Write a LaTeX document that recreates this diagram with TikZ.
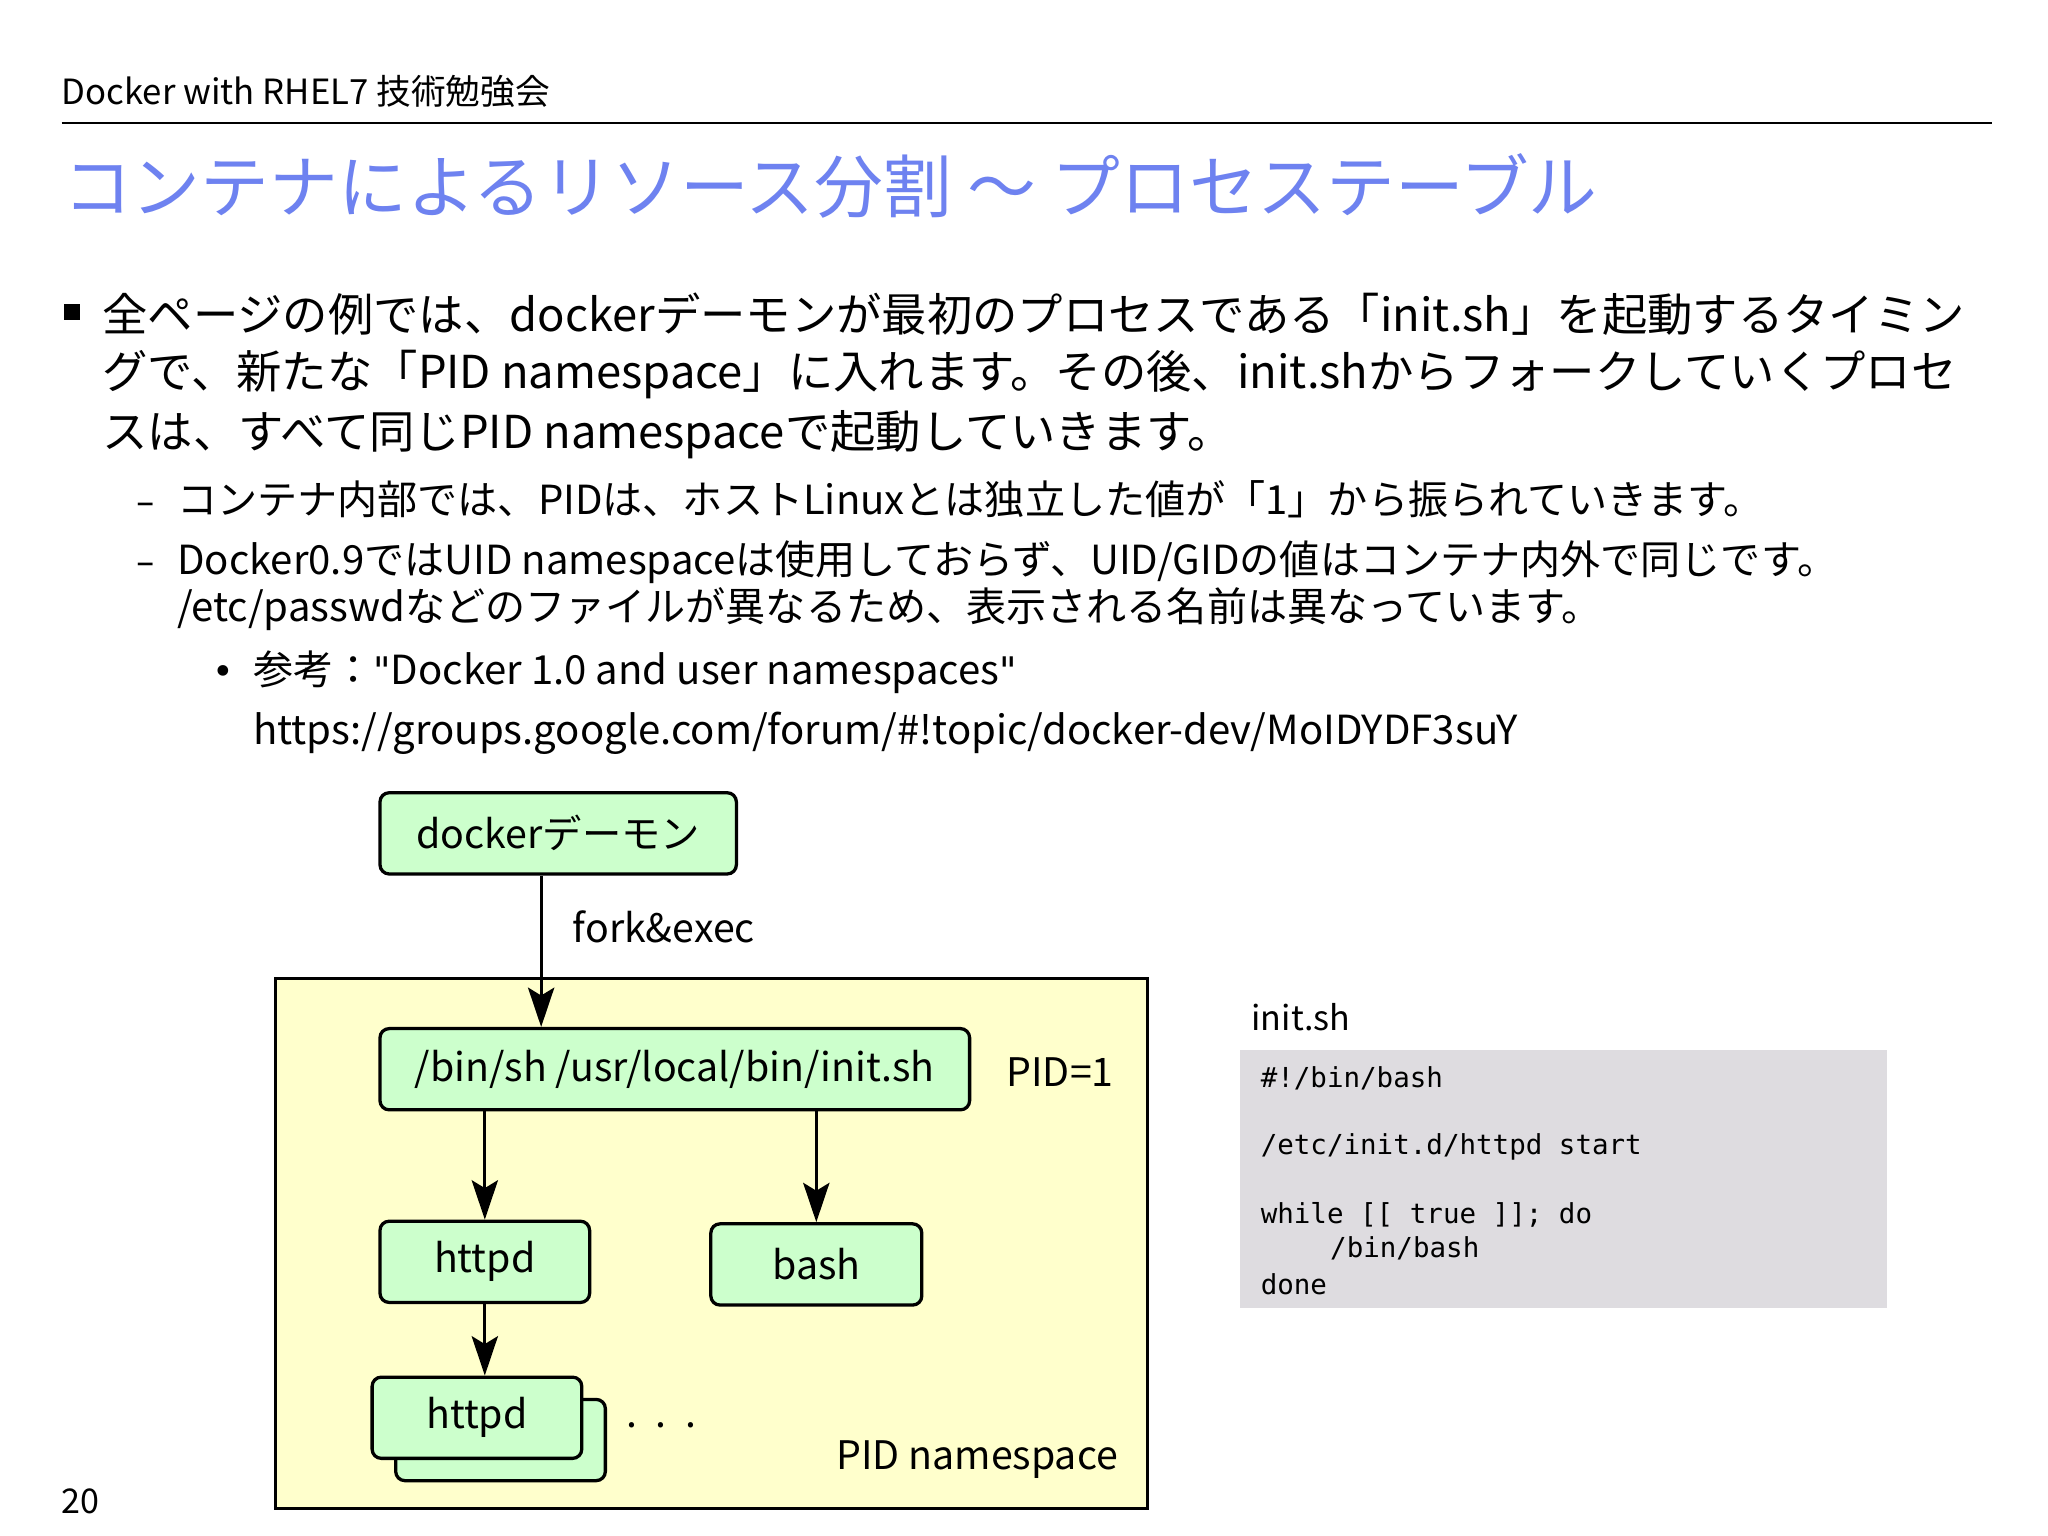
\documentclass[tikz,border=0pt]{standalone}
\usepackage{fontspec}
\setmainfont{Noto Sans CJK JP}
\newfontfamily\monof{DejaVu Sans Mono}
\newfontfamily\dashf{DejaVu Sans}
\usetikzlibrary{arrows.meta}
\definecolor{titlec}{RGB}{110,130,240}
\definecolor{codebg}{RGB}{222,220,224}
\definecolor{gfill}{RGB}{204,255,204}
\definecolor{yfill}{RGB}{255,255,204}
\begin{document}
\begin{tikzpicture}[x=1pt,y=-1pt,
  box/.style={draw,line width=2.5pt,rounded corners=7pt,fill=gfill,font=\fontsize{30}{30}\selectfont,inner sep=0pt},
  arr/.style={line width=2.5pt,-{Stealth[length=30pt,width=20pt,inset=6pt]}},
  tx/.style={anchor=west,inner sep=0pt},
  body/.style={tx,font=\fontsize{34.6}{34.6}\selectfont},
  sub/.style={tx,font=\fontsize{30.6}{30.6}\selectfont},
  bmark/.style={anchor=base west,inner sep=0pt,font=\dashf\fontsize{28}{28}\selectfont}]
\useasboundingbox (0,0) rectangle (1563,1172);
\fill[white] (0,0) rectangle (1563,1172);
\node[tx,font=\fontsize{26.5}{26.5}\selectfont] (hdr) at (47,70) {Docker with RHEL7 技術勉強会};
\draw[line width=1.5pt] (47,94) -- (1520,94);
\node[tx,font=\fontsize{52.5}{52.5}\selectfont,text=titlec] (title) at (48,142) {コンテナによるリソース分割 〜 プロセステーブル};
\fill (49,232) rectangle (61,244);
\node[body] (l1) at (78,240) {全ページの例では、dockerデーモンが最初のプロセスである「init.sh」を起動するタイミン};
\node[body] (l2) at (78,286) {グで、新たな「PID namespace」に入れます。その後、init.shからフォークしていくプロセ};
\node[body] (l3) at (78,332) {スは、すべて同じPID namespaceで起動していきます。};
\node[sub] (s1) at (135,381) {コンテナ内部では、PIDは、ホストLinuxとは独立した値が「1」から振られていきます。};
\node[bmark,xshift=-31pt] (d1) at (s1.base west) {–};
\node[sub] (s2) at (135,429) {Docker0.9ではUID namespaceは使用しておらず、UID/GIDの値はコンテナ内外で同じです。};
\node[bmark,xshift=-31pt] (d2) at (s2.base west) {–};
\node[sub] (s3) at (135,465) {/etc/passwdなどのファイルが異なるため、表示される名前は異なっています。};
\node[sub] (s4) at (193,513) {参考：{\dashf\fontsize{29}{29}\selectfont "}Docker 1.0 and user namespaces{\dashf\fontsize{29}{29}\selectfont "}};
\node[bmark,xshift=-31pt] (d3) at (s4.base west) {•};
\node[sub] (s5) at (193,560) {https://groups.google.com/forum/\#!topic/docker-dev/MoIDYDF3suY};
% diagram
\node[draw,line width=2.5pt,fill=yfill,minimum width=666pt,minimum height=404pt,inner sep=0pt] (ns) at (543,949) {};
\node[tx,font=\fontsize{30}{30}\selectfont] (nsl) at (638,1114) {PID namespace};
\node[box,minimum width=272pt,minimum height=62pt] (docker) at (426,636) {dockerデーモン};
\node[tx,font=\fontsize{30}{30}\selectfont] (fork) at (437,707) {fork\&exec};
\node[box,minimum width=450pt,minimum height=62pt] (init) at (515,816) {/bin/sh /usr/local/bin/init.sh};
\node[tx,font=\fontsize{30}{30}\selectfont] (pid) at (768,818) {PID=1};
\node[box,minimum width=160pt,minimum height=62pt] (h1) at (370,963) {httpd};
\node[box,minimum width=161pt,minimum height=62pt] (bash) at (623,965) {bash};
\node[box,minimum width=160pt,minimum height=62pt] (h3) at (382,1099) {};
\node[box,minimum width=160pt,minimum height=62pt] (h2) at (364,1082) {httpd};
\node[tx,font=\fontsize{30}{30}\selectfont] (dots) at (478,1088) {.\hspace{14pt}.\hspace{14pt}.};
\draw[arr] ([xshift=-13pt]docker.south) -- ([xshift=-102pt]init.north);
\draw[arr] (init.south -| h1.north) -- (h1.north);
\draw[arr] (init.south -| bash.north) -- (bash.north);
\draw[arr] (h1.south) -- (h1.south |- h2.north);
% init.sh
\node[tx,font=\fontsize{26}{26}\selectfont] (il) at (955,776) {init.sh};
\fill[codebg] (946,801) rectangle (1440,998);
\begin{scope}[every node/.style={tx,font=\monof\fontsize{21}{21}\selectfont}]
\node (c1) at (962,823) {\#!/bin/bash};
\node (c2) at (962,875) {/etc/init.d/httpd start};
\node (c3) at (962,927) {while [[ true ]]; do};
\node (c4) at (1015,953) {/bin/bash};
\node (c5) at (962,980) {done};
\end{scope}
\node[tx,font=\fontsize{26}{26}\selectfont] (pg) at (47,1146) {20};
\end{tikzpicture}
\end{document}
